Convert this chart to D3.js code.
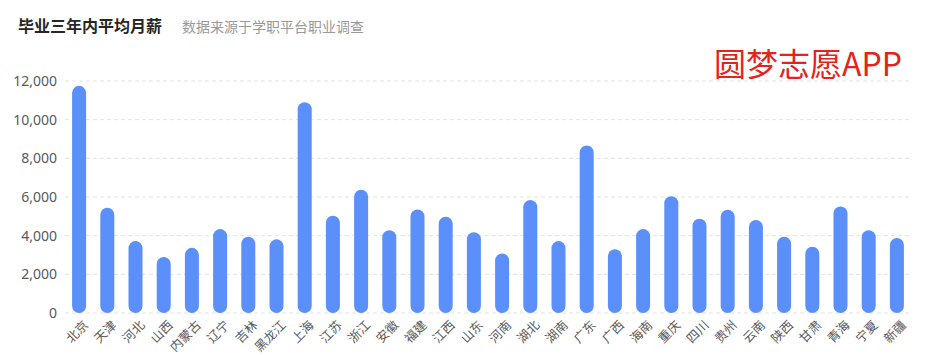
<!DOCTYPE html>
<html>
<head>
<meta charset="utf-8">
<script src="https://cdn.jsdelivr.net/npm/d3@7"></script>
<style>
  body { margin: 0; background: #fff; }
  text { font-family: "Noto Sans CJK SC", "Noto Sans", sans-serif; }
</style>
</head>
<body>
<div id="chart"></div>
<script>
// data
var provinces = ["北京", "天津", "河北", "山西", "内蒙古", "辽宁", "吉林", "黑龙江", "上海", "江苏",
  "浙江", "安徽", "福建", "江西", "山东", "河南", "湖北", "湖南", "广东", "广西",
  "海南", "重庆", "四川", "贵州", "云南", "陕西", "甘肃", "青海", "宁夏", "新疆"];
var salary = [11750, 5450, 3720, 2900, 3370, 4340, 3950, 3810, 10900, 5030,
  6380, 4280, 5350, 4980, 4180, 3080, 5840, 3720, 8660, 3300,
  4340, 6040, 4880, 5340, 4810, 3950, 3430, 5510, 4280, 3880];
var yTicks = [0, 2000, 4000, 6000, 8000, 10000, 12000];

var title = "毕业三年内平均月薪";
var subtitle = "数据来源于学职平台职业调查";
var watermark = "圆梦志愿APP";

width = 932;
height = 355;
margin = {top: 81, right: 21, bottom: 42, left: 65};
var innerW = width - margin.left - margin.right;
var innerH = height - margin.top - margin.bottom;

var svg = d3.select("#chart")
  .append("svg")
  .attr("width", width)
  .attr("height", height);

// title + subtitle
svg.append("text")
  .attr("x", 18)
  .attr("y", 32)
  .attr("font-size", 16)
  .attr("font-weight", "bold")
  .attr("fill", "#262626")
  .text(title);

svg.append("text")
  .attr("x", 182)
  .attr("y", 32)
  .attr("font-size", 14)
  .attr("fill", "#999")
  .text(subtitle);

var g = svg.append("g")
  .attr("transform", "translate(" + margin.left + "," + margin.top + ")");

//  SCALES
var x = d3.scaleBand().domain(provinces).range([0, innerW]);
var y = d3.scaleLinear().domain([0, 12000]).range([innerH, 0]);

// grid lines
g.selectAll(".grid")
  .data(yTicks)
  .enter().append("line")
  .attr("class", "grid")
  .attr("x1", 0)
  .attr("x2", innerW)
  .attr("y1", d => y(d))
  .attr("y2", d => y(d))
  .attr("stroke", "#e3e3e3")
  .attr("stroke-dasharray", "4,3");

// y axis
var yAxis = g.append("g")
  .call(d3.axisLeft(y).tickValues(yTicks).tickFormat(d3.format(",")).tickSize(0).tickPadding(8));
yAxis.select(".domain").remove();
yAxis.selectAll("text")
  .attr("font-size", 14)
  .attr("fill", "#595959")
  .style("font-family", "'Noto Sans', sans-serif");

// x axis
var xAxis = g.append("g")
  .attr("transform", "translate(0," + innerH + ")")
  .call(d3.axisBottom(x).tickSize(0));
xAxis.select(".domain").remove();
xAxis.selectAll("text")
  .attr("font-size", 12.5)
  .attr("fill", "#595959")
  .attr("text-anchor", "end")
  .attr("dy", null)
  .attr("y", 0)
  .attr("transform", "translate(10,13) rotate(-45)");

// bars
var barW = 14;
g.selectAll(".bar")
  .data(salary)
  .enter().append("rect")
  .attr("class", "bar")
  .attr("x", (d, i) => x(provinces[i]) + x.bandwidth() / 2 - barW / 2)
  .attr("y", d => y(d))
  .attr("width", barW)
  .attr("height", d => y(0) - y(d))
  .attr("rx", barW / 2)
  .attr("fill", "#5b8ff9");

// watermark
svg.append("text")
  .attr("x", 714)
  .attr("y", 76)
  .attr("font-size", 32)
  .attr("fill", "#e5231b")
  .text(watermark);
</script>
</body>
</html>
